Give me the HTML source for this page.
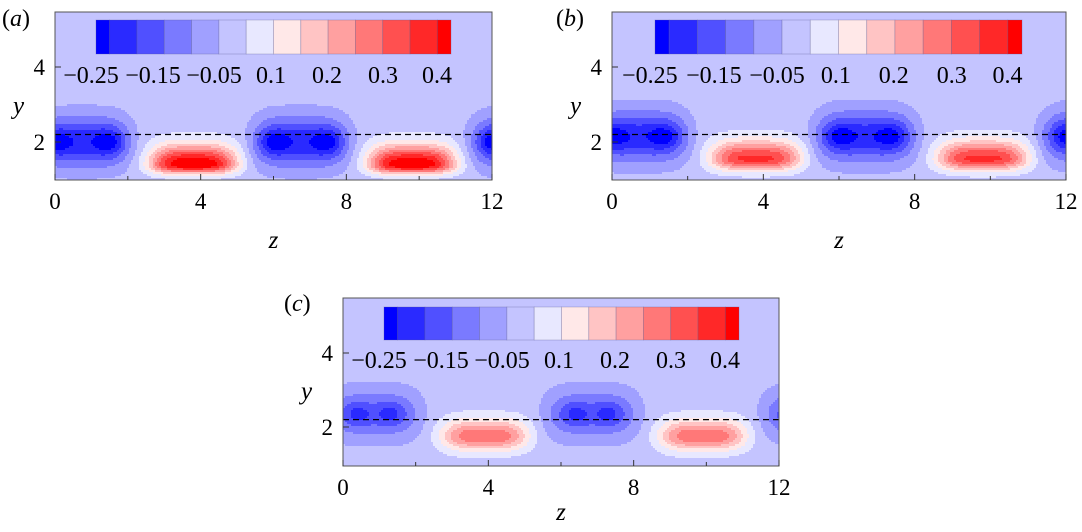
<!DOCTYPE html>
<html><head><meta charset="utf-8">
<style>
body{margin:0;background:#fff;width:1082px;height:527px;overflow:hidden;}
</style></head>
<body>
<svg id="fig" width="1082" height="527" xmlns="http://www.w3.org/2000/svg" font-family="Liberation Serif, serif"></svg>
<script>
// ---- data ----
const zTicks=[0,4,8,12];
const zMinor=[2,6,10];
const yTicks=[2,4];
const cbLabels=["\u22120.25","\u22120.15","\u22120.05","0.1","0.2","0.3","0.4"];
const cbColors=["#0000ff","#2a2aff","#5050ff","#7a7aff","#a0a0ff","#c4c4ff","#e8e8ff","#ffe8e8","#ffc4c4","#ffa0a0","#ff7878","#ff5050","#ff2828","#ff0000"];
const panelLetters=["a","b","c"];
const negCoreZ=[[6.0,7.5],[6.0,7.4],[6.4,7.3]];
const negY=[2.0,2.15,2.35];
const negEnvAmp=[-0.21,-0.21,-0.13];
const negCoreAmp=[-0.08,-0.07,-0.07];
const posZ=[3.8,3.8,3.9];
const posY=[1.4,1.55,1.75];
const posAmp=[0.42,0.34,0.27];
const posSpreadUp=[0.51,0.48,0.45];
const posSpreadDown=[0.24,0.3,0.38];
const dashY=[2.2,2.2,2.2];

const svg=document.getElementById('fig');
const NS="http://www.w3.org/2000/svg";
function mk(tag,attrs,parent){const e=document.createElementNS(NS,tag);for(const k in attrs)e.setAttribute(k,attrs[k]);(parent||svg).appendChild(e);return e;}

const panels=[
 {x0:55,x1:492,yTop:12,yBot:180,y4:67,y2:142,cb:[96,20,451,54],lblY:83,zlY:248,letter:[2,26]},
 {x0:612,x1:1066,yTop:12,yBot:180,y4:67,y2:142,cb:[655,20,1022,54],lblY:83,zlY:248,letter:[556,26]},
 {x0:343,x1:779,yTop:298,yBot:466,y4:353,y2:427,cb:[384,307,739,340],lblY:368,zlY:520,letter:[284,311]}
];
const lblOff=[-5,57,118,175,231,287,341];

function field(p,z,y){
  let v=0;
  const nc=(negCoreZ[p][0]+negCoreZ[p][1])/2;
  for(let k=-2;k<=2;k++){
    const dzN=z-(nc+6*k-6), dyN=y-negY[p];
    v+=negEnvAmp[p]*Math.exp(-Math.pow(Math.abs(dzN)/1.3,4)-(dyN*dyN)/0.46);
    for(const c of negCoreZ[p]){
      const dz=z-(c+6*k-6);
      v+=negCoreAmp[p]*Math.exp(-(dz*dz)/0.16-(dyN*dyN)/0.1);
    }
    const dz=z-(posZ[p]+6*k), dy=y-posY[p];
    const s = dy<0 ? posSpreadDown[p] : posSpreadUp[p];
    v+=posAmp[p]*Math.exp(-Math.pow(Math.abs(dz)/1.18,3.5)-(dy/s)*(dy/s));
  }
  return v;
}
function colorIdx(v){let i=5+Math.round(v/0.05);return Math.max(0,Math.min(13,i));}

panels.forEach((P,p)=>{
  const g=mk('g',{});
  
  
  const sx=z=>P.x0+(P.x1-P.x0)*z/12;
  const uy=(P.y2-P.y4)/2;
  const sy=y=>P.y2-(y-2)*uy;
  const bg=mk('rect',{x:P.x0,y:P.yTop,width:P.x1-P.x0,height:P.yBot-P.yTop,fill:cbColors[5]},g);
  
  
  const cg=mk('g',{'shape-rendering':'crispEdges'},g);
  
  
  const cs=2;
  for(let py=P.yTop;py<P.yBot;py+=cs){
    const y=2-(py+cs/2-P.y2)/uy;
    let runStart=P.x0,runIdx=5;
    for(let px=P.x0;px<P.x1;px+=cs){
      const z=(px+cs/2-P.x0)/(P.x1-P.x0)*12;
      const idx=colorIdx(field(p,z,y));
      if(idx!==runIdx){
        if(runIdx!==5){mk('rect',{x:runStart,y:py,width:px-runStart,height:Math.min(cs,P.yBot-py),fill:cbColors[runIdx]},cg);}
        runStart=px;runIdx=idx;
      }
    }
    if(runIdx!==5){mk('rect',{x:runStart,y:py,width:P.x1-runStart,height:Math.min(cs,P.yBot-py),fill:cbColors[runIdx]},cg);}
  }
  const dl=mk('line',{x1:P.x0,x2:P.x1,y1:sy(dashY[p]),y2:sy(dashY[p]),stroke:'#000','stroke-width':1.2,'stroke-dasharray':'6,4'},g);
  
  
  const fr=mk('rect',{x:P.x0,y:P.yTop,width:P.x1-P.x0,height:P.yBot-P.yTop,fill:'none',stroke:'#555','stroke-width':1},g);
  
  
  zTicks.forEach(t=>{
    mk('line',{x1:sx(t),x2:sx(t),y1:P.yBot,y2:P.yBot-6,stroke:'#333'},g);
    const tx=mk('text',{x:sx(t),y:P.yBot+29,'font-size':23,'text-anchor':'middle','font-family':'Liberation Serif, serif'},g);
    tx.textContent=t;
    
    
  });
  zMinor.forEach(t=>{mk('line',{x1:sx(t),x2:sx(t),y1:P.yBot,y2:P.yBot-4,stroke:'#333'},g);});
  yTicks.forEach(t=>{
    mk('line',{x1:P.x0,x2:P.x0+6,y1:sy(t),y2:sy(t),stroke:'#333'},g);
    const ty=mk('text',{x:P.x0-10,y:sy(t)+8,'font-size':23,'text-anchor':'end','font-family':'Liberation Serif, serif'},g);
    ty.textContent=t;
    
    
  });
  const yl=mk('text',{x:P.x0-42,y:(P.y4+P.y2)/2+9,'font-size':25,'font-style':'italic','font-family':'Liberation Serif, serif'},g);
  yl.textContent='y';
  
  
  const zl=mk('text',{x:(P.x0+P.x1)/2,y:P.zlY,'font-size':25,'font-style':'italic','text-anchor':'middle','font-family':'Liberation Serif, serif'},g);
  zl.textContent='z';
  
  
  const lt=mk('text',{x:P.letter[0],y:P.letter[1],'font-size':24,'font-family':'Liberation Serif, serif'},g);
  lt.innerHTML='(<tspan font-style="italic">'+panelLetters[p]+'</tspan>)';
  
  
  const [cx0,cy0,cx1,cy1]=P.cb;
  const cbg=mk('g',{},g);
  
  
  const unit=(cx1-cx0)/13;
  cbColors.forEach((c,i)=>{
    const xs=i===0?cx0:cx0+unit*(i-0.5);
    const xe=i===13?cx1:cx0+unit*(i+0.5);
    mk('rect',{x:xs,y:cy0,width:xe-xs,height:cy1-cy0,fill:c,stroke:'rgba(90,90,140,0.35)','stroke-width':0.8},cbg);
  });
  const sc=(cx1-cx0)/355;
  cbLabels.forEach((l,i)=>{
    const t=mk('text',{x:cx0+lblOff[i]*sc,y:P.lblY,'font-size':24,'text-anchor':'middle','font-family':'Liberation Serif, serif'},cbg);
    t.textContent=l;
    
    
  });
});
</script>
</body></html>
